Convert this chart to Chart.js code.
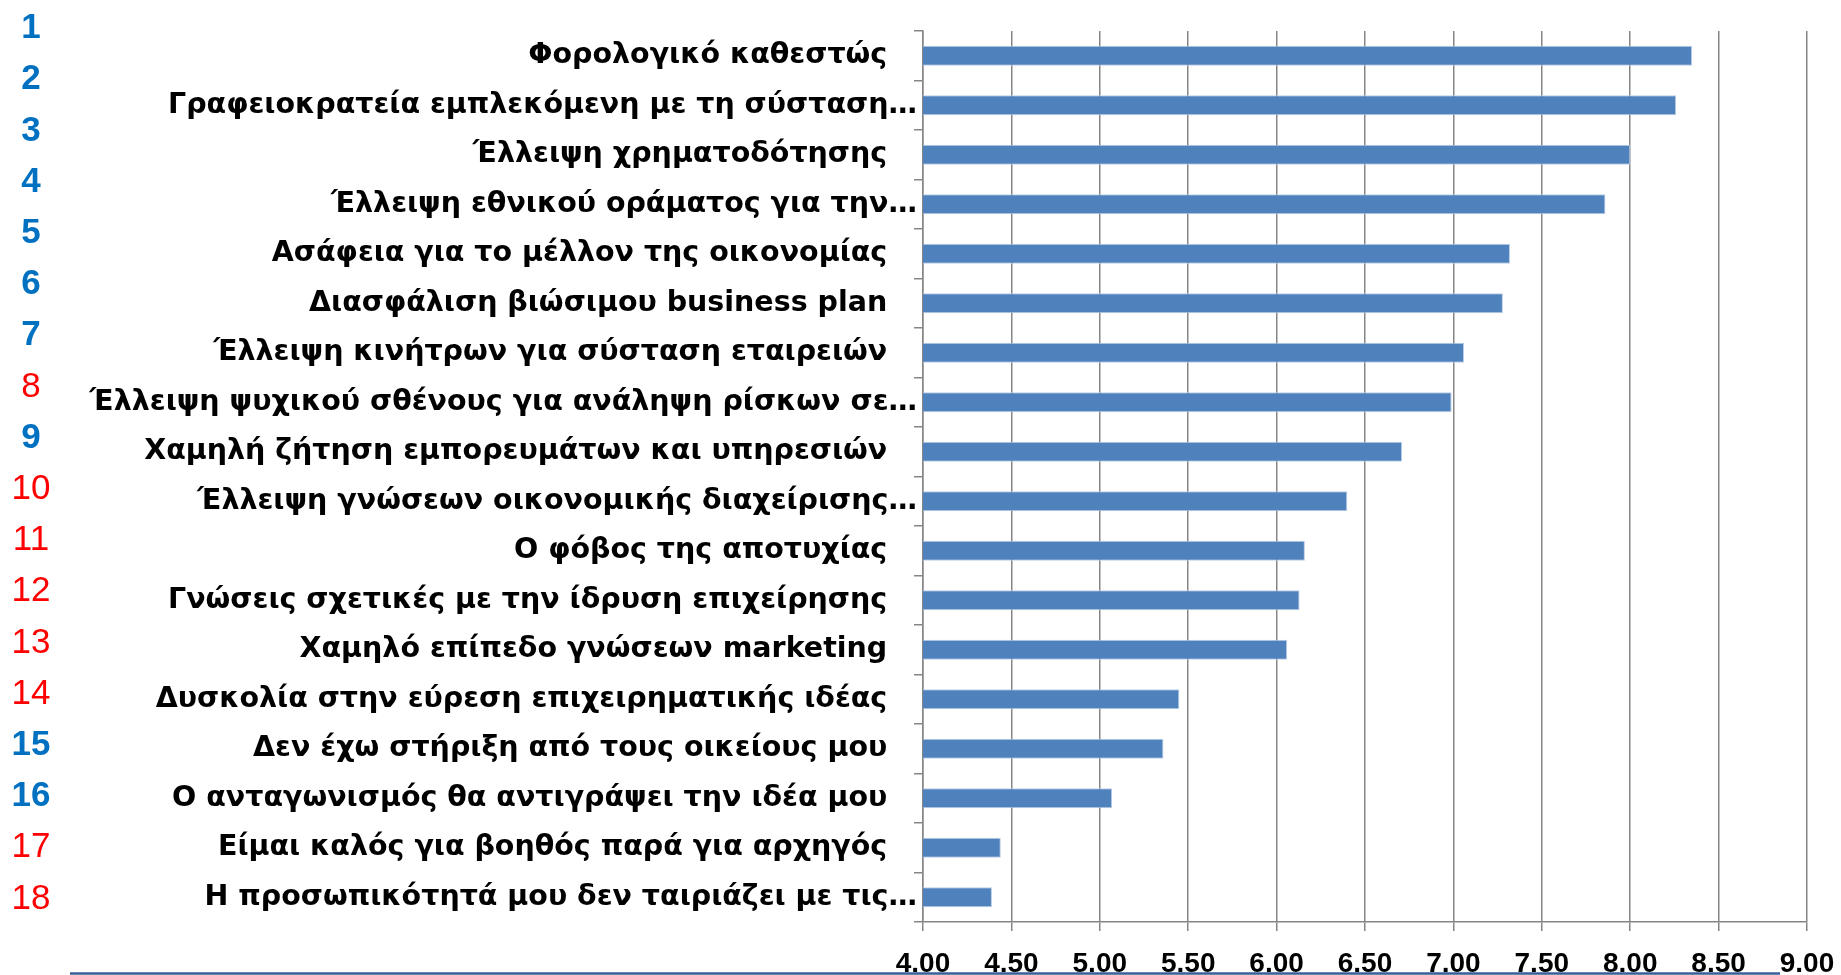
<!DOCTYPE html>
<html lang="el">
<head>
<meta charset="utf-8">
<title>Εμπόδια επιχειρηματικότητας</title>
<script src="https://cdn.jsdelivr.net/npm/chart.js@4.4.1/dist/chart.umd.min.js"></script>
<style>
  html, body { margin: 0; padding: 0; background: #fff; }
  .chart-wrap { position: relative; width: 1841px; height: 975px; }
</style>
</head>
<body>
<div class="chart-wrap">
  <canvas id="chart" width="1841" height="975"></canvas>
</div>
<script>
'use strict';

/* ---- Data ---- */
const categories = [
  'Φορολογικό καθεστώς',
  'Γραφειοκρατεία εμπλεκόμενη με τη σύσταση…',
  'Έλλειψη χρηματοδότησης',
  'Έλλειψη εθνικού οράματος για την…',
  'Ασάφεια για το μέλλον της οικονομίας',
  'Διασφάλιση βιώσιμου business plan',
  'Έλλειψη κινήτρων για σύσταση εταιρειών',
  'Έλλειψη ψυχικού σθένους για ανάληψη ρίσκων σε…',
  'Χαμηλή ζήτηση εμπορευμάτων και υπηρεσιών',
  'Έλλειψη γνώσεων οικονομικής διαχείρισης…',
  'Ο φόβος της αποτυχίας',
  'Γνώσεις σχετικές με την ίδρυση επιχείρησης',
  'Χαμηλό επίπεδο γνώσεων marketing',
  'Δυσκολία στην εύρεση επιχειρηματικής ιδέας',
  'Δεν έχω στήριξη από τους οικείους μου',
  'Ο ανταγωνισμός θα αντιγράψει την ιδέα μου',
  'Είμαι καλός για βοηθός παρά για αρχηγός',
  'Η προσωπικότητά μου δεν ταιριάζει με τις…'
];

const scores = [
  8.35, 8.26, 8.00, 7.86, 7.32, 7.28, 7.06, 6.99, 6.71,
  6.40, 6.16, 6.13, 6.06, 5.45, 5.36, 5.07, 4.44, 4.39
];

// rank numbers at the left; true = blue bold, false = red
const rankLabels    = ['1','2','3','4','5','6','7','8','9','10','11','12','13','14','15','16','17','18'];
const rankHighlight = [true,true,true,true,true,true,true,false,true,false,false,false,false,false,true,true,false,false];

const xTicks = { min: 4, max: 9, step: 0.5 };

/* ---- Styling ---- */
const COLORS = {
  bar:      '#4F81BD',
  barEdge:  '#B9CDE5',
  grid:     '#868686',
  text:     '#000000',
  rankBlue: '#0070C0',
  rankRed:  '#FF0000',
  footLine: '#35609A'
};

const PLOT_LEFT = 923;

/* ---- Plugins ---- */
const rankColumn = {
  id: 'rankColumn',
  afterDraw(chart) {
    const ctx = chart.ctx;
    ctx.save();
    ctx.textAlign = 'center';
    ctx.textBaseline = 'middle';
    rankLabels.forEach((txt, i) => {
      const hi = rankHighlight[i];
      ctx.font = (hi ? 'bold ' : '') + '35px "Liberation Sans", Arial, sans-serif';
      ctx.fillStyle = hi ? COLORS.rankBlue : COLORS.rankRed;
      ctx.fillText(txt, 31, 28.5 + i * 51.2);
    });
    ctx.restore();
  }
};

const footLine = {
  id: 'footLine',
  afterDraw(chart) {
    const ctx = chart.ctx;
    ctx.save();
    ctx.strokeStyle = COLORS.footLine;
    ctx.lineWidth = 2.5;
    ctx.beginPath();
    ctx.moveTo(70, 973.5);
    ctx.lineTo(1780, 973.5);
    ctx.stroke();
    ctx.restore();
  }
};

/* ---- Chart ---- */
new Chart(document.getElementById('chart'), {
  type: 'bar',
  data: {
    labels: categories,
    datasets: [{
      data: scores,
      backgroundColor: COLORS.bar,
      borderColor: COLORS.barEdge,
      borderWidth: 1,
      barPercentage: 0.4,
      categoryPercentage: 1
    }]
  },
  options: {
    indexAxis: 'y',
    responsive: false,
    animation: false,
    layout: { padding: { top: 31, right: 34, left: 0, bottom: 0 } },
    plugins: {
      legend: { display: false },
      tooltip: { enabled: false }
    },
    scales: {
      x: {
        type: 'linear',
        min: xTicks.min,
        max: xTicks.max,
        afterFit(scale) {
          scale.height = 53;
          // let the last tick label hang into the layout padding
          scale.paddingLeft = 0;
          scale.paddingRight = 0;
        },
        grid: { color: COLORS.grid, lineWidth: 1.5, tickLength: 9 },
        border: { color: COLORS.grid, width: 1.5 },
        ticks: {
          stepSize: xTicks.step,
          padding: 16,
          color: COLORS.text,
          font: { family: '"Liberation Sans", Arial, sans-serif', size: 28, weight: 'bold' },
          callback: v => Number(v).toFixed(2)
        }
      },
      y: {
        afterFit(scale) { scale.width = PLOT_LEFT; },
        grid: { drawOnChartArea: false, color: COLORS.grid, lineWidth: 1.5, tickLength: 9 },
        border: { color: COLORS.grid, width: 1.5 },
        ticks: {
          autoSkip: false,
          padding: -3,
          color: COLORS.text,
          font: { family: '"DejaVu Sans", sans-serif', size: 28.5, weight: 'bold' },
          callback(value) {
            const l = this.getLabelForValue(value);
            return l.endsWith('…') ? l : l + '   ';
          }
        }
      }
    }
  },
  plugins: [rankColumn, footLine]
});
</script>
</body>
</html>
